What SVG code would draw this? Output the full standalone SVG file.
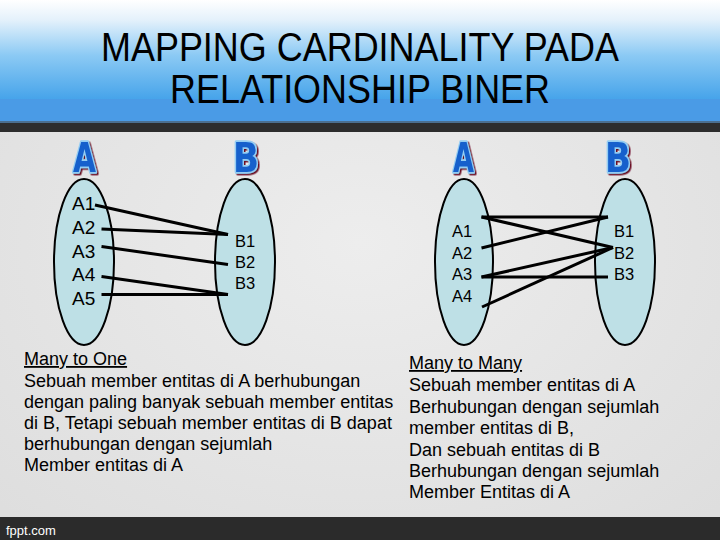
<svg xmlns="http://www.w3.org/2000/svg" width="720" height="540" viewBox="0 0 720 540">
<defs>
<linearGradient id="sky" x1="0" y1="0" x2="0" y2="1">
<stop offset="0" stop-color="#ffffff"/>
<stop offset="0.2" stop-color="#e4f1fb"/>
<stop offset="0.55" stop-color="#8ccaf4"/>
<stop offset="1" stop-color="#45a3ea"/>
</linearGradient>
<radialGradient id="bg" cx="0.5" cy="0.45" r="0.7">
<stop offset="0" stop-color="#ededed"/>
<stop offset="1" stop-color="#dedede"/>
</radialGradient>
<filter id="shadow" x="-20%" y="-20%" width="150%" height="150%">
<feDropShadow dx="1.5" dy="1.5" stdDeviation="0" flood-color="#6a1020"/>
</filter>
<style>
.title{font-family:"Liberation Sans",Arial,sans-serif;font-size:40px;fill:#000;text-anchor:middle}
.set{fill:#bee0e6;stroke:#000;stroke-width:2}
.el{font-family:"Liberation Sans",Arial,sans-serif;fill:#000}
.big{font-family:"DejaVu Sans",sans-serif;font-weight:bold;font-size:41px;fill:#1660cc;stroke:#94cdf3;stroke-width:3.5;paint-order:stroke;stroke-linejoin:round}
.desc{font-family:"Liberation Sans",Arial,sans-serif;font-size:18px;fill:#000}
.link{stroke:#000;stroke-width:3;stroke-linecap:butt;fill:none}
</style>
</defs>
<rect x="0" y="0" width="720" height="540" fill="url(#bg)"/>
<rect x="0" y="0" width="720" height="100" fill="url(#sky)"/>
<rect x="0" y="99" width="720" height="23" fill="#4a9be6"/>
<rect x="0" y="121" width="720" height="2" fill="#4b6f90"/>
<rect x="0" y="123" width="720" height="9" fill="#2d2d2d"/>
<rect x="0" y="517" width="720" height="23" fill="#2b2b2b"/>
<text x="6" y="535" font-family="Liberation Sans,Arial,sans-serif" font-size="13" fill="#ffffff">fppt.com</text>
<text class="title" x="360" y="61" textLength="518" lengthAdjust="spacingAndGlyphs">MAPPING CARDINALITY PADA</text>
<text class="title" x="360" y="103" textLength="380" lengthAdjust="spacingAndGlyphs">RELATIONSHIP BINER</text>

<g id="headers" filter="url(#shadow)">
<text class="big" x="73" y="172" textLength="23" lengthAdjust="spacingAndGlyphs">A</text>
<text class="big" x="233" y="172" textLength="26" lengthAdjust="spacingAndGlyphs">B</text>
<text class="big" x="453" y="172" textLength="21" lengthAdjust="spacingAndGlyphs">A</text>
<text class="big" x="605" y="172" textLength="26" lengthAdjust="spacingAndGlyphs">B</text>
</g>

<g id="setA1">
<ellipse class="set" cx="84" cy="262" rx="30" ry="83"/>
<g class="el" font-size="19">
<text x="72" y="210">A1</text>
<text x="72" y="234">A2</text>
<text x="72" y="257.5">A3</text>
<text x="72" y="281">A4</text>
<text x="72" y="305">A5</text>
</g>
</g>
<g id="setB1">
<ellipse class="set" cx="245" cy="262" rx="30" ry="83"/>
<g class="el" font-size="16.5">
<text x="235" y="247">B1</text>
<text x="235" y="268">B2</text>
<text x="235" y="289">B3</text>
</g>
</g>
<g id="setA2">
<ellipse class="set" cx="464" cy="262" rx="29" ry="83"/>
<g class="el" font-size="16.5">
<text x="452" y="237">A1</text>
<text x="452" y="258.5">A2</text>
<text x="452" y="280">A3</text>
<text x="452" y="301.5">A4</text>
</g>
</g>
<g id="setB2">
<ellipse class="set" cx="625" cy="262" rx="30" ry="83"/>
<g class="el" font-size="16.5">
<text x="614" y="237">B1</text>
<text x="614" y="258.5">B2</text>
<text x="614" y="280">B3</text>
</g>
</g>

<g id="connectors">
<line class="link" x1="95" y1="205" x2="228" y2="234.5"/>
<line class="link" x1="101.5" y1="229" x2="228" y2="234.5"/>
<line class="link" x1="101.5" y1="246.5" x2="228" y2="264.5"/>
<line class="link" x1="101.5" y1="276.5" x2="228" y2="294.5"/>
<line class="link" x1="101.5" y1="294.5" x2="228" y2="294.5"/>
<line class="link" x1="481.5" y1="217" x2="608" y2="217"/>
<line class="link" x1="481.5" y1="217" x2="613" y2="247.5"/>
<line class="link" x1="481.5" y1="248" x2="608" y2="217"/>
<line class="link" x1="481.5" y1="277" x2="613" y2="247.5"/>
<line class="link" x1="481.5" y1="277" x2="608" y2="277"/>
<line class="link" x1="482" y1="307" x2="613" y2="247.5"/>
</g>

<g id="desc-left" class="desc">
<text x="24" y="365" text-decoration="underline">Many to One</text>
<text x="24" y="387">Sebuah member entitas di A berhubungan</text>
<text x="24" y="408">dengan paling banyak sebuah member entitas</text>
<text x="24" y="429">di B, Tetapi sebuah member entitas di B dapat</text>
<text x="24" y="450">berhubungan dengan sejumlah</text>
<text x="24" y="471">Member entitas di A</text>
</g>
<g id="desc-right" class="desc">
<text x="409" y="369" text-decoration="underline">Many to Many</text>
<text x="409" y="391">Sebuah member entitas di A</text>
<text x="409" y="412.5">Berhubungan dengan sejumlah</text>
<text x="409" y="434">member entitas di B,</text>
<text x="409" y="455.5">Dan sebuah entitas di B</text>
<text x="409" y="477">Berhubungan dengan sejumlah</text>
<text x="409" y="498">Member Entitas di A</text>
</g>
</svg>
